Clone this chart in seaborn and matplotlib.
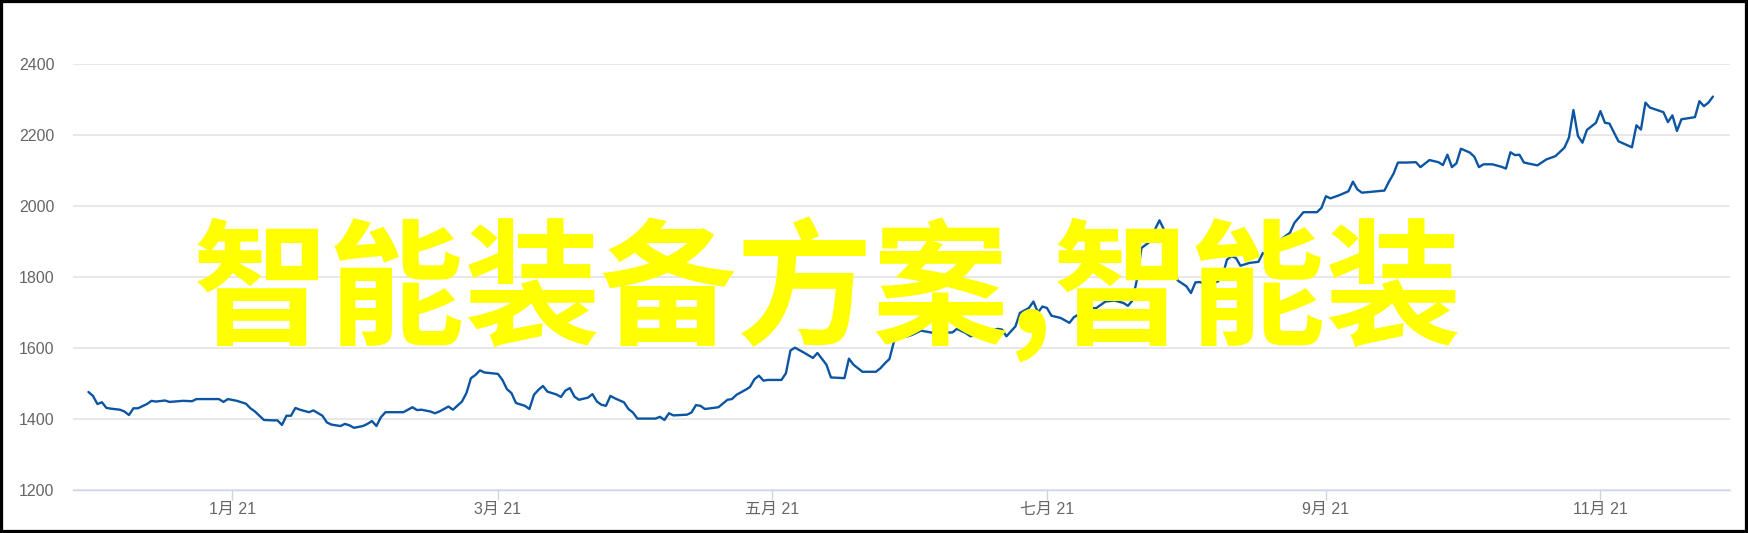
import matplotlib
matplotlib.use("Agg")
import matplotlib.pyplot as plt
from matplotlib.patches import Rectangle
import pandas as pd
import seaborn as sns

# --- data ---
dates = [
    "2020-11-30", "2020-12-01", "2020-12-02", "2020-12-03", "2020-12-04", "2020-12-05",
    "2020-12-07", "2020-12-08", "2020-12-09", "2020-12-10", "2020-12-11", "2020-12-13",
    "2020-12-14", "2020-12-15", "2020-12-17", "2020-12-18", "2020-12-20", "2020-12-21",
    "2020-12-23", "2020-12-24", "2020-12-26", "2020-12-28", "2020-12-29", "2020-12-30",
    "2020-12-31", "2021-01-02", "2021-01-04", "2021-01-05", "2021-01-06", "2021-01-08",
    "2021-01-10", "2021-01-11", "2021-01-12", "2021-01-13", "2021-01-14", "2021-01-15",
    "2021-01-16", "2021-01-18", "2021-01-19", "2021-01-21", "2021-01-22", "2021-01-23",
    "2021-01-25", "2021-01-26", "2021-01-27", "2021-01-28", "2021-01-30", "2021-01-31",
    "2021-02-01", "2021-02-02", "2021-02-03", "2021-02-04", "2021-02-06", "2021-02-08",
    "2021-02-10", "2021-02-11", "2021-02-12", "2021-02-14", "2021-02-15", "2021-02-16",
    "2021-02-18", "2021-02-19", "2021-02-21", "2021-02-22", "2021-02-23", "2021-02-24",
    "2021-02-25", "2021-02-26", "2021-03-01", "2021-03-02", "2021-03-03", "2021-03-04",
    "2021-03-05", "2021-03-07", "2021-03-08", "2021-03-09", "2021-03-10", "2021-03-11",
    "2021-03-12", "2021-03-14", "2021-03-15", "2021-03-16", "2021-03-17", "2021-03-18",
    "2021-03-19", "2021-03-21", "2021-03-22", "2021-03-23", "2021-03-24", "2021-03-25",
    "2021-03-26", "2021-03-27", "2021-03-29", "2021-03-30", "2021-03-31", "2021-04-01",
    "2021-04-05", "2021-04-06", "2021-04-07", "2021-04-08", "2021-04-09", "2021-04-12",
    "2021-04-13", "2021-04-14", "2021-04-15", "2021-04-16", "2021-04-19", "2021-04-21",
    "2021-04-22", "2021-04-23", "2021-04-25", "2021-04-26", "2021-04-27", "2021-04-28",
    "2021-04-29", "2021-04-30", "2021-05-03", "2021-05-04", "2021-05-05", "2021-05-06",
    "2021-05-08", "2021-05-10", "2021-05-11", "2021-05-13", "2021-05-14", "2021-05-17",
    "2021-05-18", "2021-05-19", "2021-05-21", "2021-05-24", "2021-05-25", "2021-05-26",
    "2021-05-27", "2021-05-28", "2021-05-29", "2021-05-31", "2021-06-01", "2021-06-03",
    "2021-06-06", "2021-06-10", "2021-06-11", "2021-06-13", "2021-06-14", "2021-06-15",
    "2021-06-18", "2021-06-20", "2021-06-21", "2021-06-22", "2021-06-24", "2021-06-25",
    "2021-06-27", "2021-06-28", "2021-06-29", "2021-06-30", "2021-07-01", "2021-07-02",
    "2021-07-04", "2021-07-05", "2021-07-06", "2021-07-07", "2021-07-08", "2021-07-09",
    "2021-07-12", "2021-07-14", "2021-07-16", "2021-07-18", "2021-07-19", "2021-07-20",
    "2021-07-21", "2021-07-22", "2021-07-24", "2021-07-25", "2021-07-26", "2021-07-27",
    "2021-07-28", "2021-07-30", "2021-08-01", "2021-08-02", "2021-08-03", "2021-08-04",
    "2021-08-06", "2021-08-08", "2021-08-09", "2021-08-10", "2021-08-11", "2021-08-12",
    "2021-08-13", "2021-08-15", "2021-08-17", "2021-08-18", "2021-08-19", "2021-08-20",
    "2021-08-22", "2021-08-24", "2021-08-25", "2021-08-27", "2021-08-30", "2021-08-31",
    "2021-09-01", "2021-09-02", "2021-09-04", "2021-09-06", "2021-09-07", "2021-09-08",
    "2021-09-09", "2021-09-14", "2021-09-15", "2021-09-16", "2021-09-17", "2021-09-19",
    "2021-09-21", "2021-09-22", "2021-09-24", "2021-09-26", "2021-09-27", "2021-09-28",
    "2021-09-29", "2021-09-30", "2021-10-01", "2021-10-03", "2021-10-04", "2021-10-05",
    "2021-10-06", "2021-10-08", "2021-10-10", "2021-10-11", "2021-10-12", "2021-10-13",
    "2021-10-14", "2021-10-15", "2021-10-18", "2021-10-20", "2021-10-22", "2021-10-24",
    "2021-10-25", "2021-10-26", "2021-10-27", "2021-10-28", "2021-10-29", "2021-10-31",
    "2021-11-01", "2021-11-02", "2021-11-03", "2021-11-05", "2021-11-08", "2021-11-09",
    "2021-11-10", "2021-11-11", "2021-11-12", "2021-11-15", "2021-11-16", "2021-11-17",
    "2021-11-18", "2021-11-19", "2021-11-22", "2021-11-23", "2021-11-24", "2021-11-25",
    "2021-11-26",
]

values = [
    1475, 1464, 1441, 1446, 1430, 1428,
    1425, 1420, 1410, 1429, 1429, 1441,
    1450, 1448, 1451, 1447, 1449, 1450,
    1449, 1455, 1455, 1455, 1455, 1447,
    1455, 1450, 1442, 1429, 1420, 1396,
    1395, 1395, 1382, 1408, 1408, 1430,
    1425, 1418, 1423, 1408, 1389, 1383,
    1379, 1385, 1381, 1374, 1379, 1385,
    1393, 1379, 1404, 1418, 1418, 1418,
    1432, 1424, 1425, 1420, 1415, 1420,
    1434, 1425, 1448, 1472, 1514, 1523,
    1536, 1530, 1526, 1509, 1483, 1472,
    1444, 1436, 1427, 1467, 1481, 1492,
    1476, 1468, 1461, 1479, 1486, 1462,
    1453, 1459, 1469, 1448, 1439, 1436,
    1464, 1457, 1446, 1427, 1417, 1400,
    1400, 1405, 1396, 1415, 1409, 1411,
    1417, 1438, 1436, 1427, 1432, 1453,
    1455, 1467, 1481, 1489, 1511, 1521,
    1507, 1509, 1509, 1528, 1592, 1600,
    1586, 1571, 1585, 1552, 1516, 1514,
    1569, 1552, 1532, 1532, 1542, 1556,
    1568, 1617, 1630, 1632, 1636, 1648,
    1641, 1643, 1653, 1641, 1632, 1636,
    1645, 1653, 1651, 1632, 1660, 1698,
    1712, 1730, 1699, 1716, 1712, 1690,
    1684, 1677, 1670, 1686, 1693, 1709,
    1712, 1730, 1733, 1726, 1718, 1733,
    1792, 1881, 1900, 1933, 1959, 1933,
    1891, 1790, 1773, 1754, 1784, 1785,
    1775, 1787, 1801, 1848, 1858, 1853,
    1831, 1839, 1842, 1867, 1858, 1881,
    1905, 1924, 1952, 1982, 1982, 1994,
    2027, 2021, 2030, 2041, 2068, 2046,
    2037, 2043, 2068, 2090, 2122, 2122,
    2123, 2109, 2129, 2123, 2115, 2144,
    2109, 2120, 2161, 2150, 2138, 2109,
    2117, 2117, 2110, 2105, 2151, 2143,
    2144, 2122, 2114, 2131, 2140, 2164,
    2192, 2270, 2197, 2178, 2214, 2234,
    2267, 2234, 2232, 2182, 2165, 2227,
    2215, 2291, 2277, 2264, 2236, 2255,
    2211, 2244, 2250, 2295, 2281, 2291,
    2308,
]

tick_dates = ["2021-01-01", "2021-03-01", "2021-05-01", "2021-07-01", "2021-09-01", "2021-11-01"]
tick_labels = ["1月 21", "3月 21", "五月 21", "七月 21", "9月 21", "11月 21"]
y_ticks = [1200, 1400, 1600, 1800, 2000, 2200, 2400]
overlay_text = "智能装备方案,智能装"

# --- styling ---
sns.set_theme(style="white")
plt.rcParams["font.family"] = ["Liberation Sans", "Noto Sans CJK SC", "DejaVu Sans"]

df = pd.DataFrame({"date": pd.to_datetime(dates), "value": values})

fig = plt.figure(figsize=(17.48, 5.33), dpi=100)
ax = fig.add_axes([0.0418, 0.0816, 0.9479, 0.7984])

sns.lineplot(data=df, x="date", y="value", ax=ax, color="#0c55a2", linewidth=1.7)

ax.set_xlim(pd.Timestamp("2020-11-26 14:00"), pd.Timestamp("2021-11-29 19:00"))
ax.set_ylim(1200, 2400)
ax.set_xlabel("")
ax.set_ylabel("")

ax.set_yticks(y_ticks)
ax.set_yticklabels([str(v) for v in y_ticks])
ax.set_xticks(pd.to_datetime(tick_dates))
ax.set_xticklabels(tick_labels)

ax.grid(axis="y", color="#e6e6e6", linewidth=1.3)
ax.grid(axis="x", visible=False)
for side in ["top", "left", "right"]:
    ax.spines[side].set_visible(False)
ax.spines["bottom"].set_color("#ccd6eb")
ax.spines["bottom"].set_linewidth(1.0)

ax.tick_params(axis="y", length=0, pad=13.5, labelsize=11.5, labelcolor="#666666")
ax.tick_params(axis="x", length=7.5, width=1.0, color="#ccd6eb", direction="out",
               pad=1.5, labelsize=11.5, labelcolor="#666666", bottom=True)

# big yellow overlay text
fig.text(0.1106, 0.455, overlay_text, color="#ffff00", fontsize=98, fontweight="bold",
         family=["Noto Sans CJK SC", "DejaVu Sans"], ha="left", va="center", zorder=5)

# black frame around the picture
fig.patches.append(Rectangle((0, 0), 1, 1, transform=fig.transFigure, fill=False,
                             edgecolor="black", linewidth=4.5, zorder=10))

fig.savefig("out.png", dpi=100, facecolor="white")
